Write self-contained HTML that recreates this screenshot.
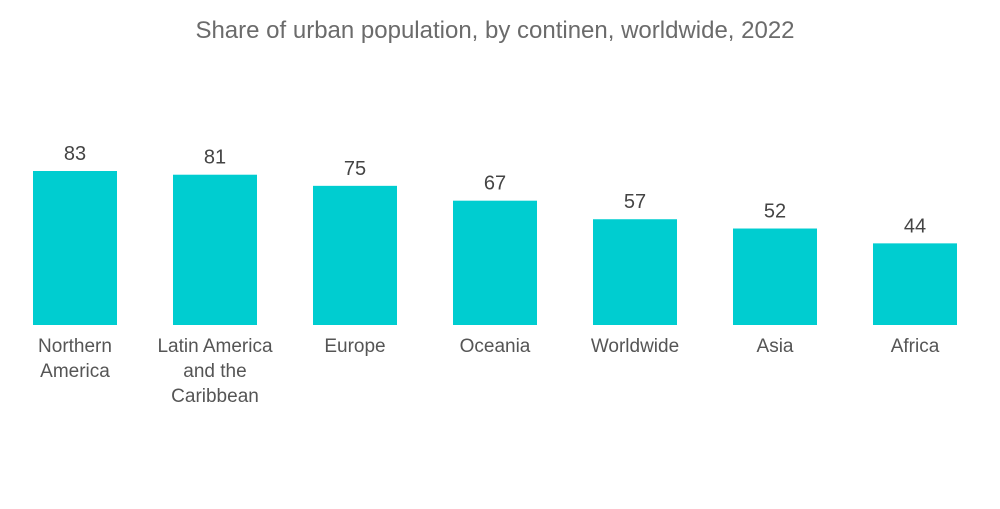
<!DOCTYPE html>
<html><head><meta charset="utf-8"><style>
body{margin:0;background:#fff;font-family:"Liberation Sans",sans-serif;}
svg text{font-family:"Liberation Sans",sans-serif;}
</style></head><body>
<svg id="chart" width="1000" height="504" xmlns="http://www.w3.org/2000/svg">
<text x="495" y="38" text-anchor="middle" font-size="24" fill="#6b6b6b">Share of urban population, by continen, worldwide, 2022</text>
<g id="bars"></g>
</svg>
<script>
const categories=[["Northern","America"],["Latin America","and the","Caribbean"],["Europe"],["Oceania"],["Worldwide"],["Asia"],["Africa"]];
const values=[83,81,75,67,57,52,44];
const baseY=325, scale=154/83, x0=33, step=140, bw=84;
function xPos(i){return x0+i*step;}
function yPos(v){return baseY-v*scale;}
const g=document.getElementById('bars');
const ns="http://www.w3.org/2000/svg";
values.forEach((v,i)=>{
  const r=document.createElementNS(ns,'rect');
  
  
  r.setAttribute('x',xPos(i));r.setAttribute('y',yPos(v));
  r.setAttribute('width',bw);r.setAttribute('height',baseY-yPos(v));
  r.setAttribute('fill','#00cdd0');g.appendChild(r);
  const t=document.createElementNS(ns,'text');
  
  
  t.setAttribute('x',xPos(i)+bw/2);t.setAttribute('y',yPos(v)-11);
  t.setAttribute('text-anchor','middle');t.setAttribute('font-size','20');t.setAttribute('fill','#444');
  t.textContent=v;g.appendChild(t);
  categories[i].forEach((line,j)=>{
    const c=document.createElementNS(ns,'text');
    
    
    c.setAttribute('x',xPos(i)+bw/2);c.setAttribute('y',352+j*25);
    c.setAttribute('text-anchor','middle');c.setAttribute('font-size','19');c.setAttribute('fill','#555');
    c.textContent=line;g.appendChild(c);
  });
});
</script>
</body></html>
